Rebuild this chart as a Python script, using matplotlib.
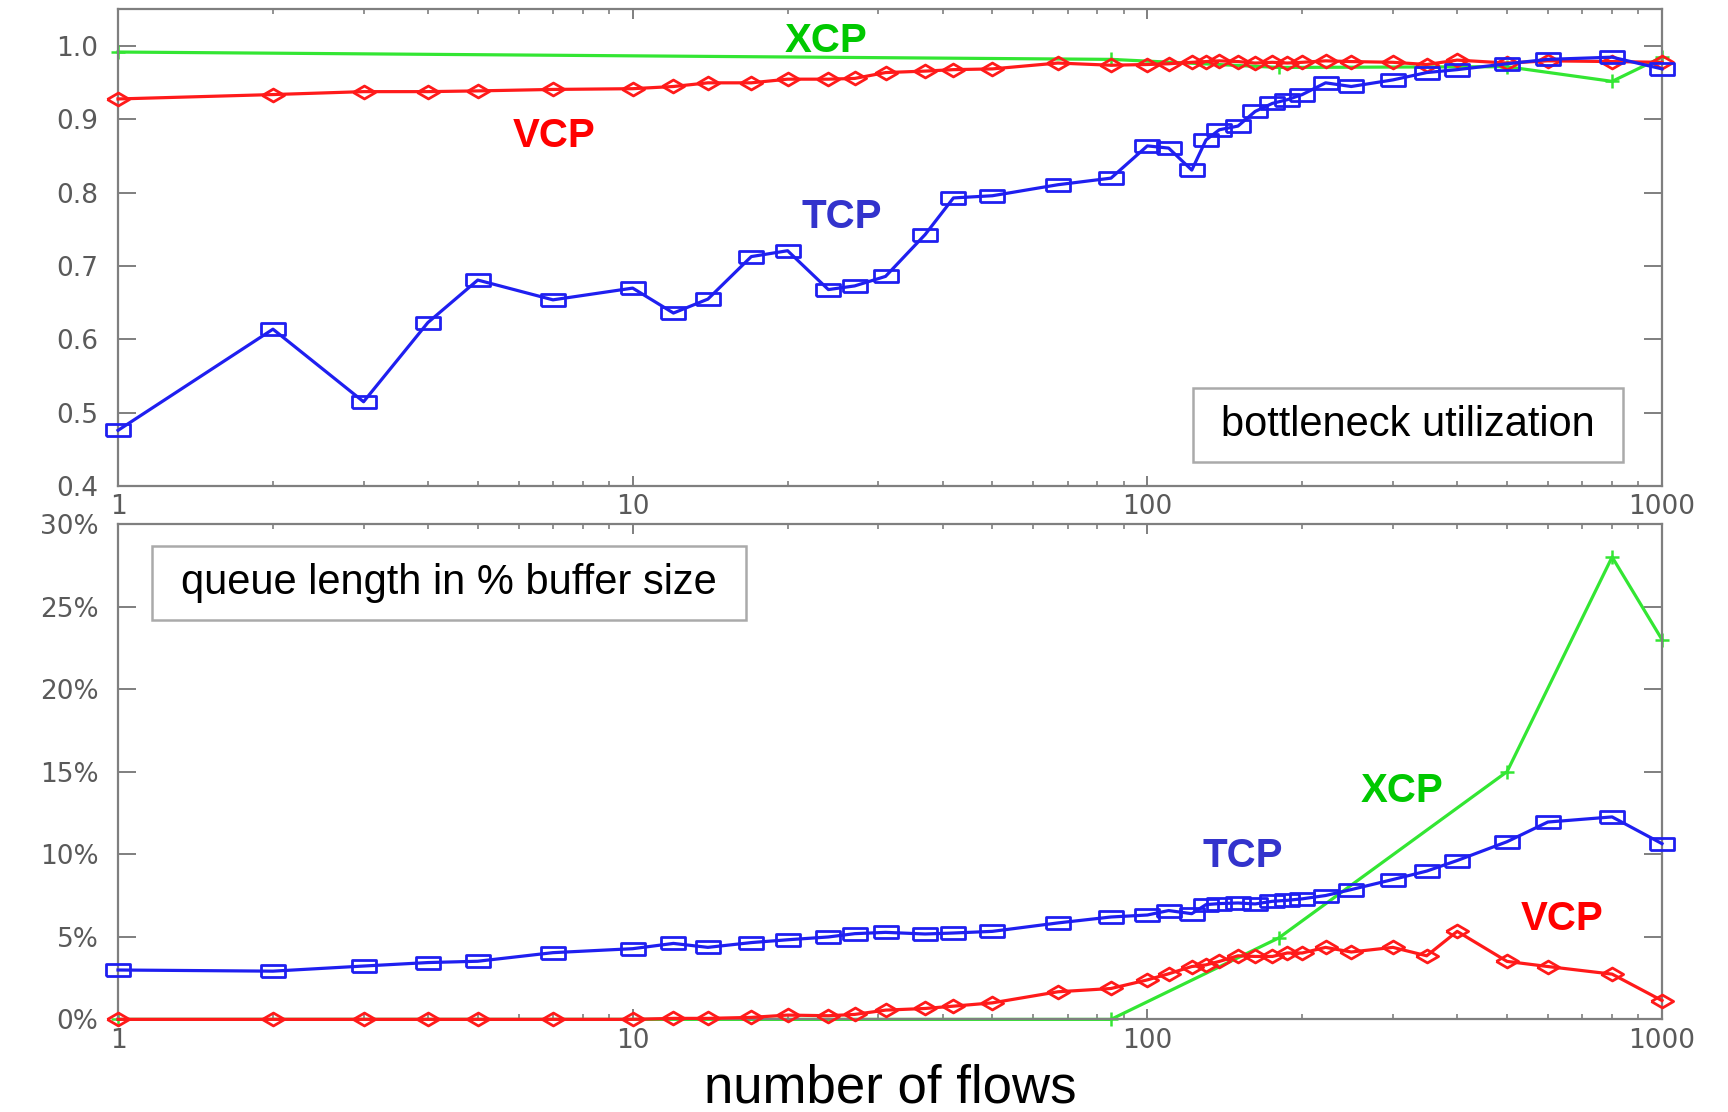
import matplotlib.pyplot as plt
from matplotlib.patches import Rectangle
from matplotlib.ticker import NullFormatter

# number of flows (shared by TCP and VCP runs)
flows = [1, 2, 3, 4, 5, 7, 10, 12, 14, 17, 20, 24, 27, 31, 37, 42, 50, 67, 85,
         100, 110, 122, 130, 138, 150, 162, 175, 187, 200, 222, 249, 300, 349,
         400, 500, 600, 800, 1000]
xcp_flows = [1, 85, 180, 500, 800, 1000]

# bottleneck utilization
util_tcp = [0.476, 0.614, 0.515, 0.623, 0.681, 0.654, 0.670, 0.636, 0.655,
            0.713, 0.721, 0.668, 0.673, 0.686, 0.743, 0.793, 0.796, 0.811,
            0.820, 0.864, 0.861, 0.831, 0.872, 0.886, 0.891, 0.911, 0.922,
            0.927, 0.934, 0.950, 0.945, 0.954, 0.964, 0.968, 0.976, 0.982,
            0.985, 0.969]
util_vcp = [0.928, 0.934, 0.938, 0.938, 0.939, 0.941, 0.942, 0.945, 0.950,
            0.950, 0.955, 0.955, 0.956, 0.964, 0.966, 0.968, 0.969, 0.977,
            0.974, 0.975, 0.976, 0.978, 0.979, 0.980, 0.979, 0.977, 0.978,
            0.977, 0.978, 0.980, 0.979, 0.978, 0.975, 0.981, 0.977, 0.980,
            0.979, 0.978]
util_xcp = [0.992, 0.982, 0.971, 0.972, 0.952, 0.985]

# queue length in % of buffer size
queue_tcp = [2.99, 2.92, 3.23, 3.44, 3.52, 4.04, 4.28, 4.60, 4.36, 4.65, 4.82,
             4.99, 5.19, 5.27, 5.17, 5.23, 5.33, 5.84, 6.20, 6.32, 6.59, 6.40,
             6.95, 7.01, 7.05, 6.99, 7.15, 7.21, 7.30, 7.50, 7.86, 8.47, 8.98,
             9.62, 10.76, 11.95, 12.26, 10.64]
queue_vcp = [0, 0, 0, 0, 0, 0, 0, 0.06, 0.06, 0.12, 0.26, 0.22, 0.30, 0.56,
             0.66, 0.80, 1.00, 1.67, 1.87, 2.39, 2.76, 3.20, 3.30, 3.51, 3.85,
             3.81, 3.81, 4.02, 4.02, 4.36, 4.08, 4.36, 3.85, 5.33, 3.51, 3.20,
             2.74, 1.14]
queue_xcp = [0, 0, 4.93, 15.0, 28.0, 23.0]

x_ticks = [1, 10, 100, 1000]
x_labels = ["1", "10", "100", "1000"]
util_ticks = [0.4, 0.5, 0.6, 0.7, 0.8, 0.9, 1.0]
queue_ticks = [0, 5, 10, 15, 20, 25, 30]

BLUE = "#1f1ff0"
RED = "#ff1a1a"
GREEN = "#33e633"
AXIS_GREY = "#7f7f7f"
LABEL_GREY = "#5a5a5a"

# flattened markers (the original graphic is stretched sideways)
WIDE_SQUARE = [(-1, -0.52), (1, -0.52), (1, 0.52), (-1, 0.52), (-1, -0.52)]
WIDE_DIAMOND = [(-1, 0), (0, 0.58), (1, 0), (0, -0.58), (-1, 0)]


def style_axes(ax):
    ax.set_xscale("log")
    ax.set_xlim(1, 1000)
    ax.set_xticks(x_ticks, labels=x_labels)
    ax.xaxis.set_minor_formatter(NullFormatter())
    for side in ax.spines.values():
        side.set_color(AXIS_GREY)
        side.set_linewidth(1.6)
    ax.tick_params(which="both", direction="in", top=True, right=True,
                   color=AXIS_GREY, labelcolor=LABEL_GREY, labelsize=19)
    ax.tick_params(axis="y", which="major", length=13, width=1.4, pad=14)
    ax.tick_params(axis="x", which="major", length=7, width=1.4, pad=6)
    ax.tick_params(axis="x", which="minor", length=3.5, width=1.2)
    for lab in ax.get_xticklabels() + ax.get_yticklabels():
        lab.set_family("DejaVu Sans")


def draw_series(ax, tcp, vcp, xcp):
    ax.plot(flows, tcp, color=BLUE, lw=2.3, marker=WIDE_SQUARE, ms=17,
            mfc="none", mec=BLUE, mew=2, clip_on=False, zorder=4)
    ax.plot(flows, vcp, color=RED, lw=2.3, marker=WIDE_DIAMOND, ms=16,
            mfc="none", mec=RED, mew=2, clip_on=False, zorder=3)
    ax.plot(xcp_flows, xcp, color=GREEN, lw=2.3, marker="+", ms=10,
            mew=1.8, clip_on=False, zorder=2)


def boxed_label(ax, text, x0, y0, x1, y1):
    ax.add_patch(Rectangle((x0, y0), x1 - x0, y1 - y0, transform=ax.transAxes,
                           facecolor="white", edgecolor="#aaaaaa", lw=1.8,
                           zorder=5))
    ax.text((x0 + x1) / 2, (y0 + y1) / 2, text, transform=ax.transAxes,
            ha="center", va="center", fontsize=30, family="Liberation Sans",
            color="black", zorder=6)


def main():
    fig = plt.figure(figsize=(17.28, 11.12), dpi=100)
    ax1 = fig.add_axes([0.0683, 0.5629, 0.8935, 0.4292])
    ax2 = fig.add_axes([0.0683, 0.0833, 0.8935, 0.4455])

    # top: bottleneck utilization
    draw_series(ax1, util_tcp, util_vcp, util_xcp)
    ax1.set_ylim(0.4, 1.051)
    ax1.set_yticks(util_ticks, labels=[f"{v:.1f}" for v in util_ticks])
    style_axes(ax1)
    lbl = dict(fontsize=29, weight="bold", family="Liberation Sans",
               ha="center", va="center")
    ax1.text(23.7, 1.0075, "XCP", color="#00c800", **lbl)
    ax1.text(7.04, 0.877, "VCP", color="#ff0000", **lbl)
    ax1.text(25.5, 0.767, "TCP", color="#3333cc", **lbl)
    boxed_label(ax1, "bottleneck utilization", 0.696, 0.050, 0.975, 0.205)

    # bottom: queue length
    draw_series(ax2, queue_tcp, queue_vcp, queue_xcp)
    ax2.set_ylim(0, 30)
    ax2.set_yticks(queue_ticks, labels=[f"{v}%" for v in queue_ticks])
    style_axes(ax2)
    ax2.text(312, 13.8, "XCP", color="#00c800", **lbl)
    ax2.text(153, 9.9, "TCP", color="#3333cc", **lbl)
    ax2.text(641, 6.1, "VCP", color="#ff0000", **lbl)
    boxed_label(ax2, "queue length in % buffer size", 0.022, 0.806, 0.407, 0.955)

    fig.text(0.515, 0.0207, "number of flows", ha="center", va="center",
             fontsize=38, family="Liberation Sans")

    fig.savefig("out.png", dpi=100)


if __name__ == "__main__":
    main()
